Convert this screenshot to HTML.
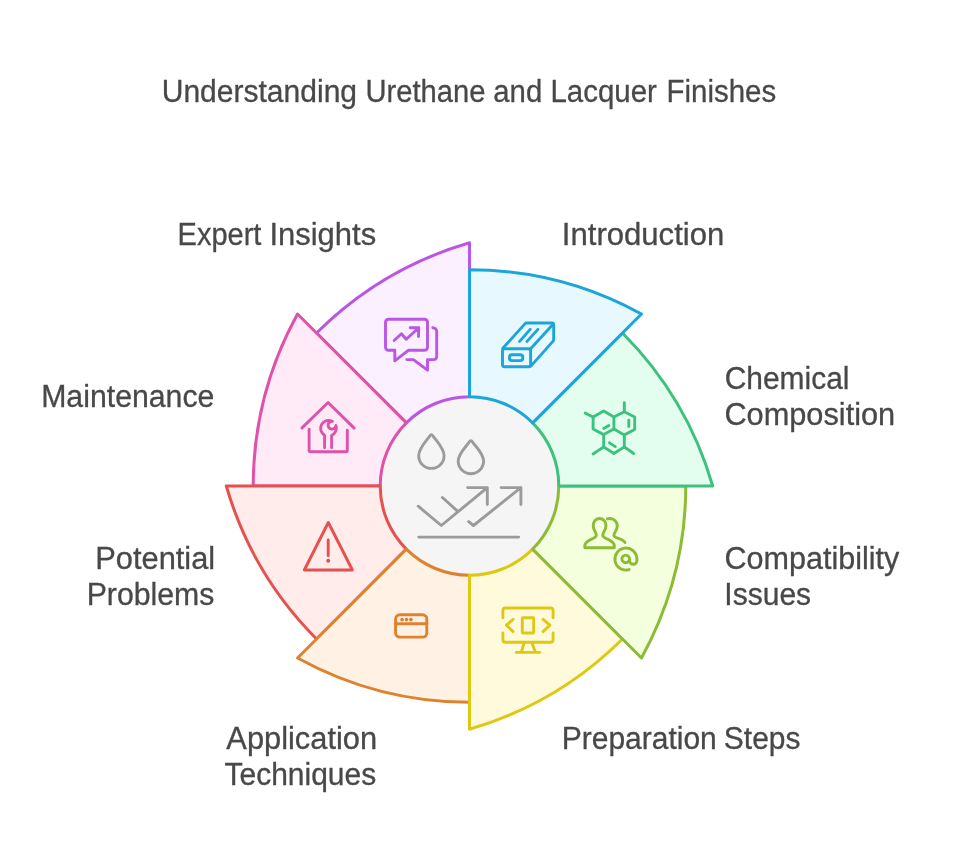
<!DOCTYPE html>
<html><head><meta charset="utf-8"><title>Understanding Urethane and Lacquer Finishes</title>
<style>
html,body{margin:0;padding:0;background:#fff;}
body{width:957px;height:866px;overflow:hidden;font-family:"Liberation Sans",sans-serif;}
svg{display:block;}
text{font-family:"Liberation Sans",sans-serif;fill:#484848;}
</style></head><body>
<svg width="957" height="866" viewBox="0 0 957 866">
<rect width="957" height="866" fill="#ffffff"/>
<circle cx="469.5" cy="486.0" r="89.3" fill="#F5F5F5"/>
<path d="M406.36 422.86 L316.55 333.05 A358 358 0 0 1 469.50 242.80 L469.50 396.70 A89.3 89.3 0 0 0 406.36 422.86 Z" fill="#FAF0FF" stroke="#B957E2" stroke-width="3" stroke-linejoin="round"/>
<path d="M380.20 486.00 L253.20 486.00 A358 358 0 0 1 297.53 314.03 L406.36 422.86 A89.3 89.3 0 0 0 380.20 486.00 Z" fill="#FFEBF7" stroke="#DE52A8" stroke-width="3" stroke-linejoin="round"/>
<path d="M406.36 549.14 L316.55 638.95 A358 358 0 0 1 226.30 486.00 L380.20 486.00 A89.3 89.3 0 0 0 406.36 549.14 Z" fill="#FFECEB" stroke="#E4514F" stroke-width="3" stroke-linejoin="round"/>
<path d="M469.50 575.30 L469.50 702.30 A358 358 0 0 1 297.53 657.97 L406.36 549.14 A89.3 89.3 0 0 0 469.50 575.30 Z" fill="#FFF1E4" stroke="#DF8230" stroke-width="3" stroke-linejoin="round"/>
<path d="M532.64 549.14 L622.45 638.95 A358 358 0 0 1 469.50 729.20 L469.50 575.30 A89.3 89.3 0 0 0 532.64 549.14 Z" fill="#FFFADC" stroke="#DEC812" stroke-width="3" stroke-linejoin="round"/>
<path d="M558.80 486.00 L685.80 486.00 A358 358 0 0 1 641.47 657.97 L532.64 549.14 A89.3 89.3 0 0 0 558.80 486.00 Z" fill="#F3FFDD" stroke="#8EBB36" stroke-width="3" stroke-linejoin="round"/>
<path d="M532.64 422.86 L622.45 333.05 A358 358 0 0 1 712.70 486.00 L558.80 486.00 A89.3 89.3 0 0 0 532.64 422.86 Z" fill="#E3FDEF" stroke="#3CC27E" stroke-width="3" stroke-linejoin="round"/>
<path d="M469.50 396.70 L469.50 269.70 A358 358 0 0 1 641.47 314.03 L532.64 422.86 A89.3 89.3 0 0 0 469.50 396.70 Z" fill="#E8F8FF" stroke="#1BA5D8" stroke-width="3" stroke-linejoin="round"/>
<g fill="none" stroke-linecap="round" stroke-linejoin="round" stroke-width="2.9">
<!-- center -->
<g stroke="#9B9B9B">
<path d="M429.7 436.1 Q431.4 433.1 433.1 436.1 C437.0 441.7 444.1 448.5 444.1 455.7 A12.7 12.7 0 0 1 418.7 455.7 C418.7 448.5 425.8 441.7 429.7 436.1 Z"/>
<path d="M469.2 442.1 Q470.9 439.1 472.6 442.1 C476.6 447.7 483.6 453.9 483.6 461.1 A12.7 12.7 0 0 1 458.2 461.1 C458.2 453.9 465.3 447.7 469.2 442.1 Z"/>
<path d="M418.2 506.2 L441.3 525.5 L487.3 487.6 M467.6 487.6 H487.3 V504.5 M442.4 497.5 L457.7 511.3"/>
<path d="M468.7 521.6 L473.5 525.5 L520.9 487.6 M501.1 487.6 H520.9 V504.5"/>
<path d="M418.7 537.1 H518.7"/>
</g>
<!-- expert insights: chat bubbles -->
<g stroke="#B957E2">
<path d="M394.8 350.3 H388.5 a3 3 0 0 1 -3 -3 V322.2 a3 3 0 0 1 3 -3 H424.5 a3 3 0 0 1 3 3 V347.3 a3 3 0 0 1 -3 3 H408.3 L394.8 360.8 Z"/>
<path d="M432.8 327.7 A3.9 3.9 0 0 1 436.7 331.6 V356.6 A3 3 0 0 1 433.7 359.6 H427.5 V370.2 L413.4 359.6 H406.8"/>
<path d="M394.2 340.5 L401.4 333.7 L406.2 339.3 L418.8 327.7 M410.2 327.7 H418.8 L418.5 336.5"/>
</g>
<!-- maintenance: house + wrench -->
<g stroke="#DE52A8">
<path d="M302 427.9 L328.1 402.5 L354.2 428.1"/>
<path d="M309.1 429.3 V450.7 a1 1 0 0 0 1 1 H346.3 a1 1 0 0 0 1 -1 V430.2"/>
<path d="M324.6 447.7 V435.3 A7.8 7.8 0 0 1 332.5 421.4 A3.9 3.9 0 1 0 335.9 425.4 A7.8 7.8 0 0 1 331.6 435.3 V447.7"/>
</g>
<!-- problems: warning -->
<g stroke="#E4514F">
<path d="M328.3 522.5 L352.4 570 H304.3 Z"/>
<path d="M328.2 540 V555.7"/>
<circle cx="328.2" cy="560.7" r="2" fill="#E4514F" stroke="none"/>
</g>
<!-- application: browser -->
<g stroke="#DF8230">
<rect x="395.6" y="614.8" width="31.2" height="22.3" rx="4.2"/>
<path d="M395.6 623.7 H426.8"/>
<g fill="#DF8230" stroke="none"><circle cx="402.1" cy="619.6" r="1.85"/><circle cx="406.5" cy="619.6" r="1.85"/><circle cx="410.9" cy="619.6" r="1.85"/></g>
</g>
<!-- preparation: monitor -->
<g stroke="#DEC812">
<path d="M502.9 617.7 V610.5 a2.5 2.5 0 0 1 2.5 -2.5 H550.6 a2.5 2.5 0 0 1 2.5 2.5 V617.7"/>
<path d="M502.9 633 V639.7 a2.5 2.5 0 0 0 2.5 2.5 H550.6 a2.5 2.5 0 0 0 2.5 -2.5 V633"/>
<path d="M513.1 619.4 L506.4 625.1 L513.1 631.6 M543.1 619.4 L549.9 625.1 L543.1 631.6"/>
<rect x="522.3" y="617.7" width="11.4" height="15.3" rx="0.8"/>
<path d="M524.2 642.7 L521.4 651.9 M532 642.7 L535.3 651.9 M516.3 652.4 H539.7"/>
</g>
<!-- compatibility: people + @ -->
<g stroke="#8EBB36">
<path d="M584.8 547.7 V546 C584.8 539 596.3 539.5 596.3 535.2 C596.3 532 593.2 530.5 593.2 525.4 A6.4 6.9 0 0 1 606 525.4 C606 530.5 602.8 532 602.8 535.2 C602.8 539.5 614.3 539 614.3 546 V547.7 Z"/>
<path d="M607.4 518.9 C613 517.5 617.3 521 617.3 526 C617.3 531 613.9 532 613.9 535.2 C613.9 538.6 622.5 538 625 542.6"/>
<path d="M629.5 558.9 A3.8 3.8 0 1 1 621.9 558.9 A3.8 3.8 0 1 1 629.5 558.9 V560.5 A3.7 3.7 0 0 0 636.9 560.5 V559 A11 11 0 1 0 629.1 569.6"/>
</g>
<!-- chemical: molecule -->
<g stroke="#3CC27E" transform="translate(0,0.7)">
<path d="M593.1 416.3 L603.7 410.3 L613.9 416.3 V428.3 L603.7 433.9 L593.1 428.3 Z"/>
<path d="M613.9 416.3 L624.3 411.1 L634.7 416.3 V428.8 L624.3 434.2 L613.9 428.3"/>
<path d="M603.7 433.9 V446.2 L613.9 452.8 L624.3 446.2 V434.2"/>
<path d="M593.1 416.3 L585.2 412.4 M624.3 411.1 V402 M603.7 446.2 L593.1 453.3 M624.3 446.2 L633.7 452.8"/>
<path d="M603.7 427.7 L608.8 424.9 M628.8 419.4 V425.8 M609.5 442.2 L615.3 445.9"/>
</g>
<!-- introduction: box -->
<g stroke="#1BA5D8" transform="translate(0,0.4)">
<rect x="502.5" y="348.4" width="28.1" height="18" rx="2"/>
<path d="M502.9 347.8 L525.1 323.2 Q525.7 322.6 526.6 322.6 H551.8 Q553.7 322.6 553.7 324.5 V339.2 Q553.7 340.1 553.1 340.7 L531.1 365.5"/>
<path d="M530.6 348.4 L553.3 323.5"/>
<path d="M519.6 341 L530.2 329 M527 341 L537.9 329"/>
<rect x="509.4" y="354.4" width="13.4" height="5.8" rx="2.6"/>
</g>
</g>

<defs><mask id="tm" maskUnits="userSpaceOnUse" x="0" y="0" width="957" height="866"><rect width="957" height="866" fill="#fff"/></mask></defs>
<g font-size="31" mask="url(#tm)" stroke="#484848" stroke-width="0.3">
<text x="161.70" y="102" textLength="195.35" lengthAdjust="spacingAndGlyphs">Understanding</text>
<text x="365.50" y="102" textLength="119.95" lengthAdjust="spacingAndGlyphs">Urethane</text>
<text x="493.34" y="102" textLength="48.90" lengthAdjust="spacingAndGlyphs">and</text>
<text x="550.50" y="102" textLength="106.36" lengthAdjust="spacingAndGlyphs">Lacquer</text>
<text x="666.50" y="102" textLength="109.69" lengthAdjust="spacingAndGlyphs">Finishes</text>
<text x="177.54" y="245" textLength="83.86" lengthAdjust="spacingAndGlyphs">Expert</text>
<text x="269.41" y="245" textLength="106.76" lengthAdjust="spacingAndGlyphs">Insights</text>
<text x="561.80" y="245" textLength="162.53" lengthAdjust="spacingAndGlyphs">Introduction</text>
<text x="724.66" y="389" textLength="124.83" lengthAdjust="spacingAndGlyphs">Chemical</text>
<text x="724.44" y="425" textLength="170.72" lengthAdjust="spacingAndGlyphs">Composition</text>
<text x="724.47" y="569" textLength="174.80" lengthAdjust="spacingAndGlyphs">Compatibility</text>
<text x="724.37" y="605" textLength="86.77" lengthAdjust="spacingAndGlyphs">Issues</text>
<text x="41.18" y="407" textLength="173.21" lengthAdjust="spacingAndGlyphs">Maintenance</text>
<text x="95.25" y="569" textLength="119.91" lengthAdjust="spacingAndGlyphs">Potential</text>
<text x="86.70" y="605" textLength="127.64" lengthAdjust="spacingAndGlyphs">Problems</text>
<text x="226.34" y="749" textLength="150.75" lengthAdjust="spacingAndGlyphs">Application</text>
<text x="224.51" y="785" textLength="151.67" lengthAdjust="spacingAndGlyphs">Techniques</text>
<text x="561.74" y="749" textLength="155.04" lengthAdjust="spacingAndGlyphs">Preparation</text>
<text x="723.87" y="749" textLength="76.58" lengthAdjust="spacingAndGlyphs">Steps</text>
</g>

</svg>
</body></html>
